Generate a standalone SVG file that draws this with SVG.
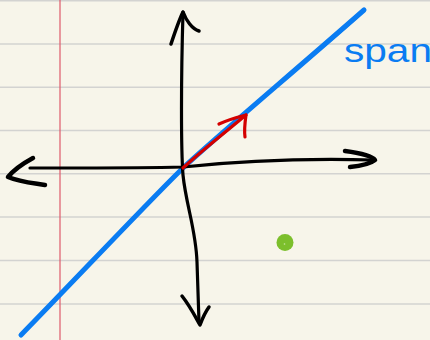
<svg xmlns="http://www.w3.org/2000/svg" width="430" height="340" viewBox="0 0 430 340">
<style>
.rule{stroke:#d3d3d1;stroke-width:1.6;fill:none}
.ink{fill:none;stroke-linecap:round;stroke-linejoin:round}
.k{stroke:#000}
</style>
<rect width="430" height="340" fill="#f7f5ea"/>
<g id="paper">
<line class="rule" x1="0" y1="0.8" x2="430" y2="0.8"/>
<line class="rule" x1="0" y1="44" x2="430" y2="44"/>
<line class="rule" x1="0" y1="87.3" x2="430" y2="87.3"/>
<line class="rule" x1="0" y1="130.5" x2="430" y2="130.5"/>
<line class="rule" x1="0" y1="173.8" x2="430" y2="173.8"/>
<line class="rule" x1="0" y1="217" x2="430" y2="217"/>
<line class="rule" x1="0" y1="260.5" x2="430" y2="260.5"/>
<line class="rule" x1="0" y1="304" x2="430" y2="304"/>
<line x1="60" y1="0" x2="60" y2="340" stroke="#de5a6a" stroke-width="1.2"/>
</g>
<g id="span-line">
<path class="ink" d="M21,335 C70,285 150,200 183,168 C215,138 290,75 364,10" stroke="#0a7cf2" stroke-width="5"/>
<path class="ink" d="M300,66 C330,40 350,24 360,14" stroke="#0a7cf2" stroke-width="3"/>
</g>
<g id="x-axis">
<path class="ink k" d="M30,168 C90,168 150,168 183,167 C230,162 300,158 374,160" stroke-width="3.2"/>
<path class="ink k" d="M33,158 C22,164 12,172 8,177 C20,182 33,183 45,185" stroke-width="4.5"/>
<path class="ink k" d="M345,151 C360,153 372,156 375,160 C370,164 360,166 350,167" stroke-width="4.5"/>
</g>
<g id="y-axis">
<path class="ink k" d="M183,12 C181,80 181,150 183,175 C186,205 196,230 197,262 L199,322" stroke-width="3.2"/>
<path class="ink k" d="M171,44 C175,32 179,20 183,12 C186,20 192,29 199,31" stroke-width="3.5"/>
<path class="ink k" d="M182,296 C190,306 196,318 200,325 C203,317 206,311 209,307" stroke-width="3.5"/>
</g>
<g id="vector">
<path class="ink" d="M183,168 C200,152 228,130 246,115" stroke="#d40000" stroke-width="3.2"/>
<path class="ink" d="M219,124 C228,120 238,117 246,115 C245,122 244,130 245,137" stroke="#d40000" stroke-width="3.2"/>
</g>
<g id="point">
<circle cx="285" cy="242.5" r="8.5" fill="#7cbf2c"/>
<circle cx="284.5" cy="244" r="0.8" fill="#c9e7a4"/>
</g>
<g id="label">
<text x="344" y="62" font-family="Liberation Sans, sans-serif" font-size="33" fill="#0a7cf2" textLength="88" lengthAdjust="spacingAndGlyphs">span</text>
</g>
</svg>
